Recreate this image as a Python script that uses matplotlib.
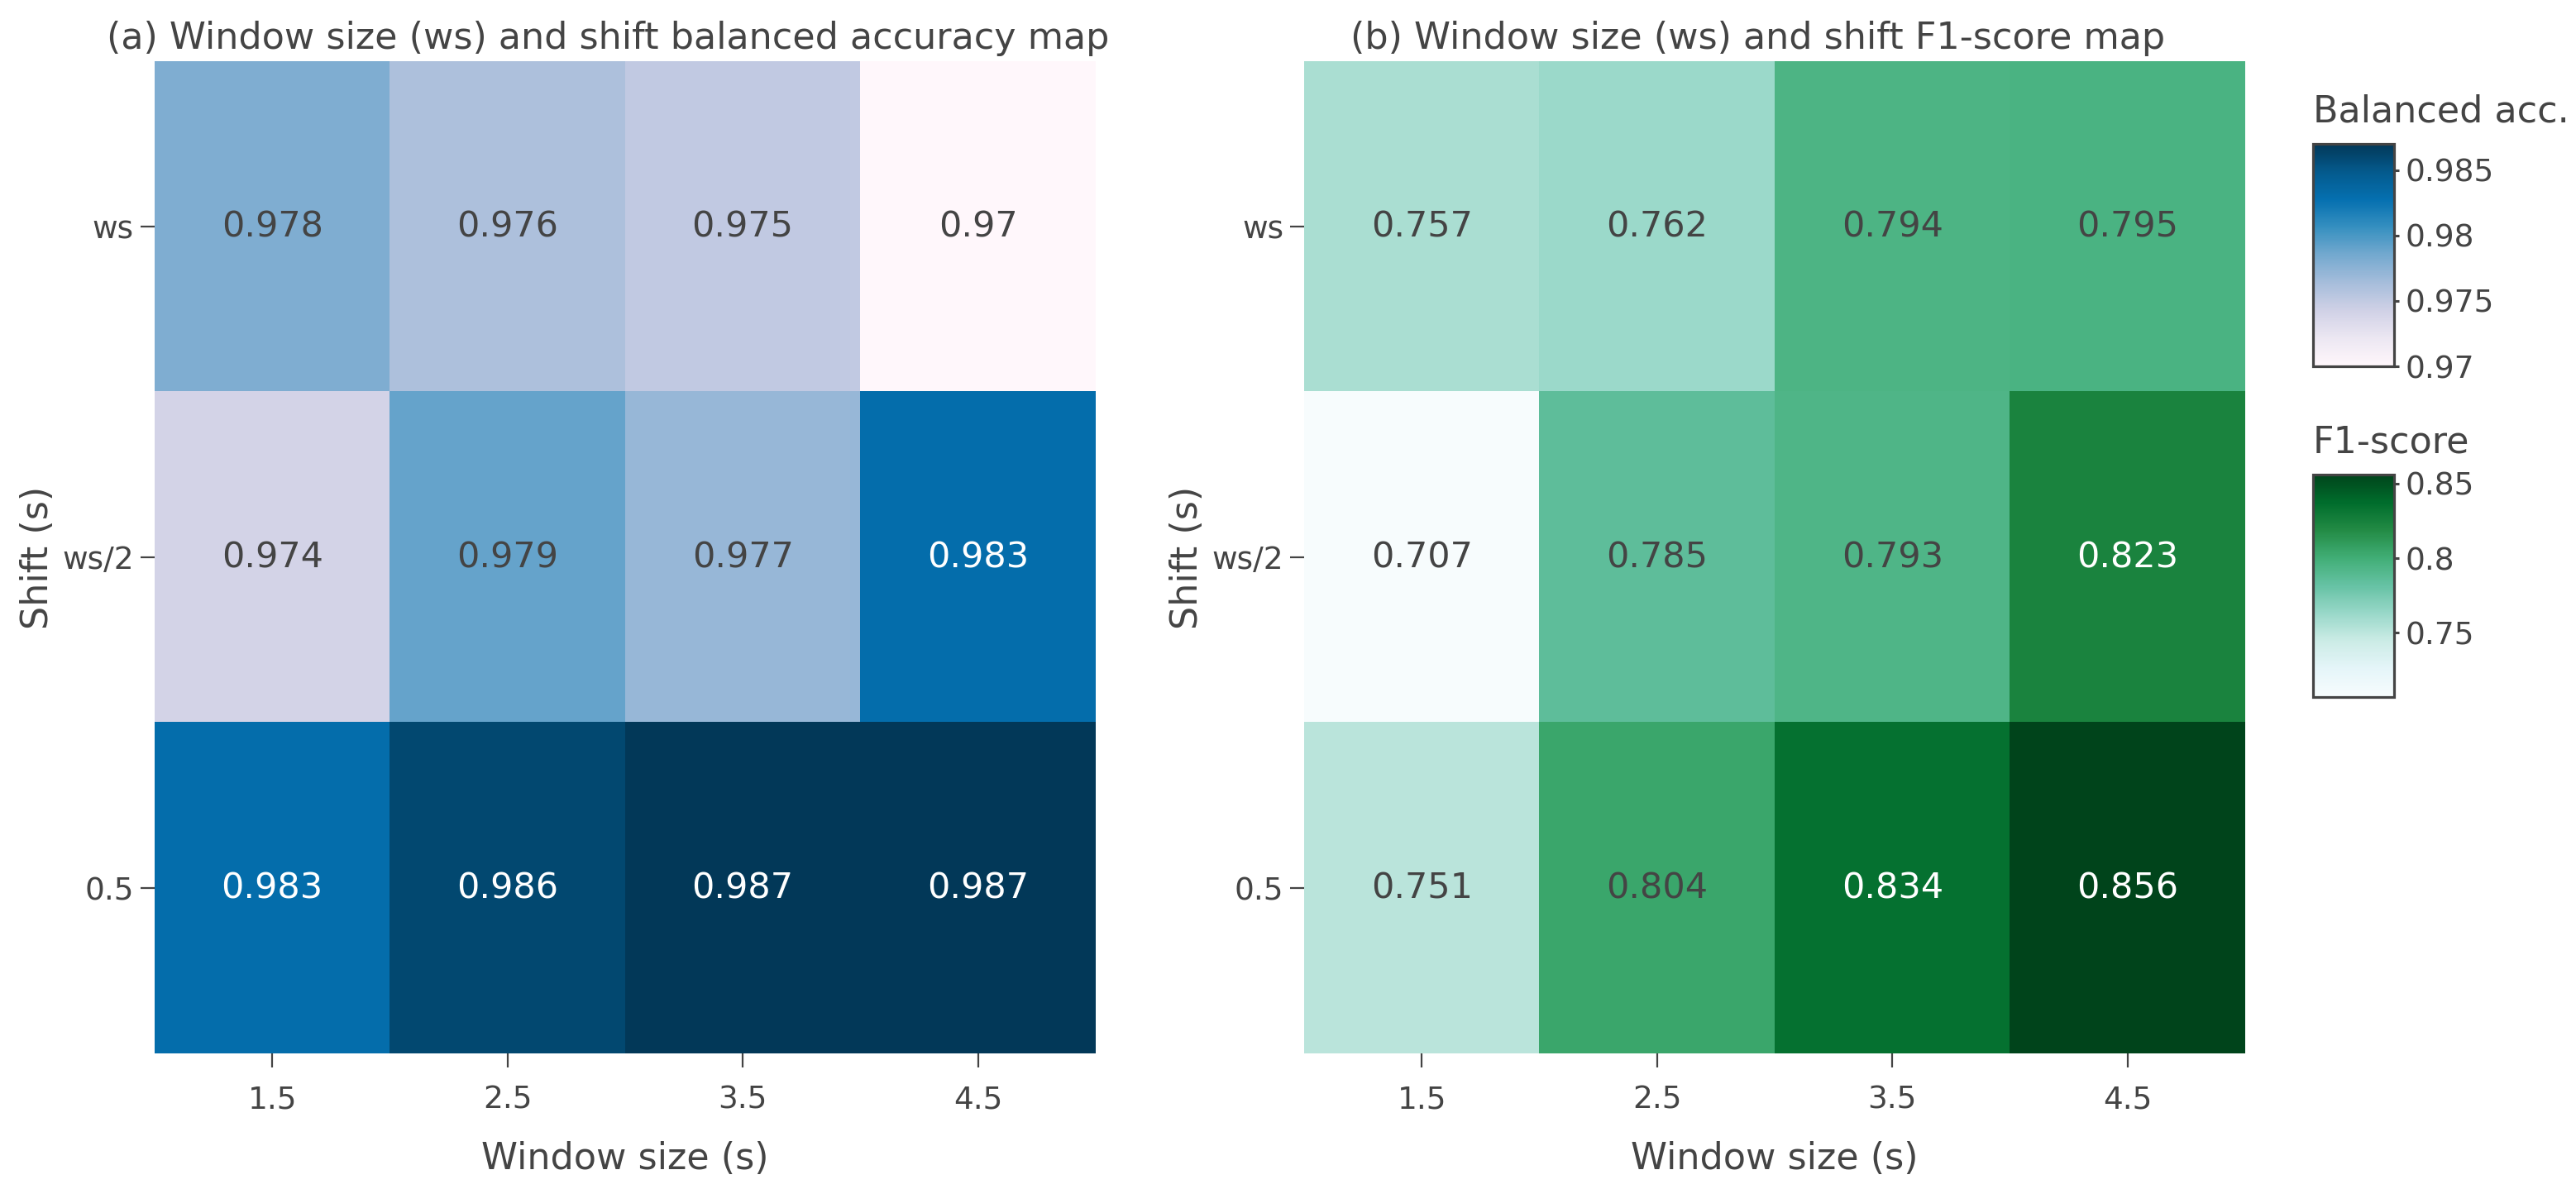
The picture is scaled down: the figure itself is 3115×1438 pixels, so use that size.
import matplotlib.pyplot as plt
import matplotlib.colors as mcolors
import numpy as np

# Datos de los mapas
window_sizes = ['1.5', '2.5', '3.5', '4.5']
shifts = ['ws', 'ws/2', '0.5']

bal_acc = [[0.978, 0.976, 0.975, 0.970],
           [0.974, 0.979, 0.977, 0.983],
           [0.983, 0.986, 0.987, 0.987]]

f1_score = [[0.757, 0.762, 0.794, 0.795],
            [0.707, 0.785, 0.793, 0.823],
            [0.751, 0.804, 0.834, 0.856]]

titles = ['(a) Window size (ws) and shift balanced accuracy map',
          '(b) Window size (ws) and shift F1-score map']
cbar_titles = ['Balanced acc.', 'F1-score']
cbar_ticks = [[0.97, 0.975, 0.98, 0.985], [0.75, 0.8, 0.85]]
cmaps = ['PuBu', 'BuGn']

txt = '#444444'
plt.rcParams['font.family'] = ['DejaVu Sans']

fig = plt.figure(figsize=(31.15, 14.38), dpi=100)
ax_pos = [[0.0600, 0.1140, 0.3653, 0.8345], [0.5063, 0.1140, 0.3653, 0.8345]]
cb_pos = [[0.8979, 0.6919, 0.0315, 0.1871], [0.8979, 0.4138, 0.0315, 0.1871]]


def texto_color(rgba):
    r, g, b = rgba[:3]
    brillo = 0.299 * r + 0.587 * g + 0.114 * b
    return 'white' if brillo < 0.45 else txt


for i, datos in enumerate([bal_acc, f1_score]):
    z = np.array(datos)
    ax = fig.add_axes(ax_pos[i])
    norm = mcolors.Normalize(vmin=z.min(), vmax=z.max())
    cmap = plt.get_cmap(cmaps[i])
    im = ax.imshow(z, cmap=cmap, norm=norm, aspect='auto', interpolation='nearest')

    for r in range(z.shape[0]):
        for c in range(z.shape[1]):
            ax.text(c, r, f'{z[r, c]:g}', ha='center', va='center', fontsize=31,
                    color=texto_color(cmap(norm(z[r, c]))))

    ax.set_xticks(range(len(window_sizes)))
    ax.set_xticklabels(window_sizes)
    ax.set_yticks(range(len(shifts)))
    ax.set_yticklabels(shifts)
    for s in ax.spines.values():
        s.set_visible(False)
    ax.tick_params(axis='both', colors=txt, labelsize=27, length=12, width=1.6)
    ax.tick_params(axis='x', pad=16)
    ax.tick_params(axis='y', pad=6)
    ax.set_xlabel('Window size (s)', fontsize=32, color=txt, labelpad=22)
    ax.set_ylabel('Shift (s)', fontsize=32, color=txt, labelpad=6)
    # el título queda un poco a la izquierda del centro del mapa
    ax.set_title(titles[i], fontsize=32, color=txt, pad=11, x=0.482)

    cax = fig.add_axes(cb_pos[i])
    cb = fig.colorbar(im, cax=cax, ticks=cbar_ticks[i])
    cb.ax.set_yticklabels([f'{t:g}' for t in cbar_ticks[i]])
    cb.outline.set_edgecolor(txt)
    cb.outline.set_linewidth(2.3)
    cb.ax.tick_params(colors=txt, labelsize=27, length=4, width=2.2, pad=6)
    cb.ax.set_title(cbar_titles[i], fontsize=32, color=txt, loc='left', pad=19)

fig.savefig('out.png', dpi=100)
